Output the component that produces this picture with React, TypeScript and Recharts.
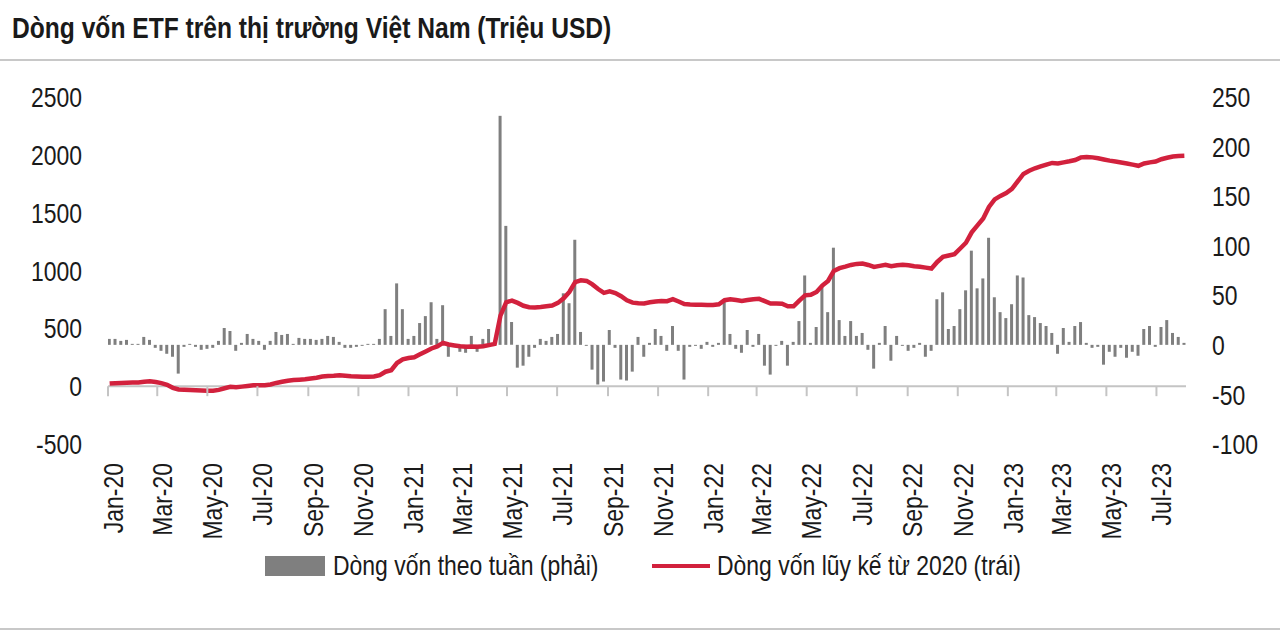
import { ComposedChart, Bar, Line, XAxis, YAxis, ReferenceLine } from 'recharts';

const TITLE = 'Dòng vốn ETF trên thị trường Việt Nam (Triệu USD)';
const BAR_NAME = 'Dòng vốn theo tuần (phải)';
const LINE_NAME = 'Dòng vốn lũy kế từ 2020 (trái)';

// first weekly observation, one point every 7 days after it
const FIRST_WEEK = '2020-01-03';

// weekly net flow, right axis (USD mn)
const WEEKLY_FLOW = [
  6, 6, 4, 5, 1, 1, 8, 5, -3, -6,
  -9, -12, -29, -2, 1, -2, -5, -4, -3, 4,
  17, 14, -6, 2, 11, 6, 4, -5, 4, 13,
  10, 11, 1, 7, 6, 6, 5, 6, 9,
  8, 3, -3, -3, -2, -1, 1, 1, 6, 36,
  9, 62, 36, 6, 9, 22, 29, 43, 6, 40,
  -12, -1, -7, -8, 9, -7, 6, 16, 3, 231,
  120, 23, -23, -21, -12, -3, 6,
  4, 8, 11, 52, 42, 106, 13, -1, -25, -40,
  -37, 15, -3, -35, -36, -27, 8, -12, 2, 16,
  9, -6, 19, -6, -35, -2, -1, -4, 3, -2,
  2, 45, 11, -4, -8, 15, -2, 11,
  -21, -30, -1, 4, -21, 3, 24, 70, 2, 18,
  59, 33, 98, 25, 9, 24, 9, 12, -5, -24,
  2, 19, -16, 9, -1, -6, -3, 2, -12, -6,
  46, 53, 16, 19, 36, 55, 95, 57, 67, 108,
  48, 33, 27, 41, 70, 68, 30, 28, 22, 19,
  12, -9, 17, 3, 19, 23, 2, -3, -2, -20,
  -7, -12, -3, -13, -7, -11, 16, 19, -2, 18,
  25, 12, 8, 2,
];

// cumulative flow since 2020, left axis (USD mn)
const CUMULATIVE_FLOW = [
  23, 26, 28, 30, 31, 32, 38, 42, 36, 26,
  12, -14, -29, -32, -34, -36, -38, -40, -40, -32,
  -18, -6, -10, -4, 2, 8, 9, 9, 15, 28,
  38, 47, 53, 56, 60, 67, 73, 83, 88,
  90, 95, 90, 86, 84, 82, 82, 84, 95, 125,
  138, 200, 232, 244, 250, 275, 300, 326, 343, 374,
  360, 352, 345, 340, 342, 340, 345, 355, 366, 610,
  725, 740, 720, 695, 682, 680, 684,
  690, 697, 720, 760, 815, 900, 915, 910, 880, 840,
  807, 820, 805, 778, 743, 722, 716, 715, 725, 732,
  737, 735, 752, 732, 710, 706, 704, 703, 702, 702,
  708, 743, 752, 745, 737, 745, 752, 755,
  735, 715, 715, 712, 690, 690, 740, 785, 790, 815,
  870, 910, 995, 1020, 1033, 1048, 1057, 1060, 1048, 1031,
  1040, 1050, 1037, 1045, 1050, 1045, 1037, 1033, 1025, 1017,
  1074, 1118, 1130, 1141, 1190, 1240, 1330, 1390, 1450, 1550,
  1615, 1645, 1670, 1705, 1770, 1835, 1862, 1884, 1900, 1916,
  1930, 1926, 1935, 1944, 1955, 1978, 1982, 1978, 1970, 1960,
  1950, 1942, 1933, 1925, 1915, 1905, 1925, 1935, 1942, 1962,
  1975, 1986, 1990, 1992,
];

const X_TICK_LABELS = [
  'Jan-20', 'Mar-20', 'May-20', 'Jul-20', 'Sep-20', 'Nov-20',
  'Jan-21', 'Mar-21', 'May-21', 'Jul-21', 'Sep-21', 'Nov-21',
  'Jan-22', 'Mar-22', 'May-22', 'Jul-22', 'Sep-22', 'Nov-22',
  'Jan-23', 'Mar-23', 'May-23', 'Jul-23',
];
const LEFT_TICKS = [-500, 0, 500, 1000, 1500, 2000, 2500];
const RIGHT_TICKS = [-100, -50, 0, 50, 100, 150, 200, 250];

const MONTHS = ['Jan', 'Feb', 'Mar', 'Apr', 'May', 'Jun', 'Jul', 'Aug', 'Sep', 'Oct', 'Nov', 'Dec'];
const DAY = 86400000;
const ORIGIN = Date.UTC(2020, 0, 1);
const X_END = 1313; // days after Jan 1 2020 where the axis stops

const W = 1280, H = 632;
const PLOT_TOP = 97, PLOT_BOTTOM = 444;
const LEFT_W = 108, RIGHT_W = 94, XAXIS_H = 100;
const ZERO_Y = PLOT_TOP + (PLOT_BOTTOM - PLOT_TOP) * LEFT_TICKS[LEFT_TICKS.length - 1] / (LEFT_TICKS[LEFT_TICKS.length - 1] - LEFT_TICKS[0]);

// no Arial Narrow installed: squeeze Liberation Sans (Arial metrics) instead
const FONT = "'Liberation Sans', Arial, sans-serif";
const NARROW = 0.82;
const FS = 28;
const INK = '#1a1a1a';
const AXIS_GREY = '#c4c4c4';
const BAR_GREY = '#7f7f7f';
const RED = '#d2213d';

const firstDay = (Date.parse(FIRST_WEEK) - ORIGIN) / DAY;
const data = WEEKLY_FLOW.map((w, i) => ({ day: firstDay + 7 * i, weekly: w, cumulative: CUMULATIVE_FLOW[i] }));

const X_TICK_DAYS = X_TICK_LABELS.map(l => {
  const [m, y] = l.split('-');
  return (Date.UTC(2000 + Number(y), MONTHS.indexOf(m), 1) - ORIGIN) / DAY;
});

type TickProps = { x?: number; y?: number; payload?: { value: number } };

function DateTick({ x, payload }: TickProps) {
  const idx = X_TICK_DAYS.indexOf(payload?.value ?? -1);
  const cx = Number(x);
  const lx = cx + 5, ly = 463;
  return (
    <g>
      <line x1={cx} x2={cx} y1={ZERO_Y} y2={ZERO_Y + 10} stroke={AXIS_GREY} strokeWidth={2} />
      <text x={0} y={0} dy="0.35em" textAnchor="end" transform={`translate(${lx},${ly}) rotate(-90) scale(${NARROW},1)`}
        style={{ fontFamily: FONT, fontSize: FS, fill: INK }}>
        {X_TICK_LABELS[idx]}
      </text>
    </g>
  );
}

function ValueTick({ x, y, payload, anchor }: TickProps & { anchor: 'start' | 'end' }) {
  return (
    <text x={0} y={0} dy="0.36em" textAnchor={anchor} transform={`translate(${x},${y}) scale(${NARROW},1)`}
      style={{ fontFamily: FONT, fontSize: FS, fill: INK }}>
      {payload?.value}
    </text>
  );
}

const squeeze = { display: 'inline-block', transform: `scaleX(${NARROW})`, transformOrigin: 'left center' } as const;

export default function App() {
  return (
    <div style={{ position: 'absolute', left: 0, top: 0, width: W, height: H, background: '#fff', fontFamily: FONT, overflow: 'hidden' }}>
      <div style={{ position: 'absolute', left: 12, top: 10, fontSize: 30, lineHeight: '36px', fontWeight: 700, color: INK, whiteSpace: 'nowrap' }}>
        <span style={squeeze}>{TITLE}</span>
      </div>
      <div style={{ position: 'absolute', left: 0, top: 59, width: W, height: 2, background: '#c8c8c8' }} />
      <div style={{ position: 'absolute', left: 0, top: 628, width: W, height: 2, background: '#c8c8c8' }} />

      <div style={{ position: 'absolute', left: 0, top: 0 }}>
        <ComposedChart width={W} height={H} data={data}
          margin={{ top: PLOT_TOP, right: 0, left: 0, bottom: H - PLOT_BOTTOM - XAXIS_H }}>
          <XAxis dataKey="day" type="number" domain={[0, X_END]} ticks={X_TICK_DAYS} interval={0}
            height={XAXIS_H} axisLine={false} tickLine={false} tick={<DateTick />} allowDataOverflow />
          <YAxis yAxisId="left" orientation="left" width={LEFT_W} domain={[LEFT_TICKS[0], LEFT_TICKS[LEFT_TICKS.length - 1]]}
            ticks={LEFT_TICKS} interval={0} axisLine={false} tickLine={false} tickSize={0} tickMargin={26}
            tick={<ValueTick anchor="end" />} />
          <YAxis yAxisId="right" orientation="right" width={RIGHT_W} domain={[RIGHT_TICKS[0], RIGHT_TICKS[RIGHT_TICKS.length - 1]]}
            ticks={RIGHT_TICKS} interval={0} axisLine={false} tickLine={false} tickSize={0} tickMargin={26}
            tick={<ValueTick anchor="start" />} />
          <ReferenceLine yAxisId="left" y={0} stroke={AXIS_GREY} strokeWidth={2} />
          <Bar yAxisId="right" dataKey="weekly" fill={BAR_GREY} barSize={3} isAnimationActive={false} />
          <Line yAxisId="left" dataKey="cumulative" type="linear" stroke={RED} strokeWidth={4.5} dot={false} isAnimationActive={false} />
        </ComposedChart>
      </div>

      <div style={{ position: 'absolute', left: 265, top: 548, height: 36, display: 'flex', alignItems: 'center', fontSize: FS, color: INK, whiteSpace: 'nowrap' }}>
        <span style={{ display: 'inline-block', width: 60, height: 20, background: BAR_GREY, marginRight: 8 }} />
        <span style={squeeze}>{BAR_NAME}</span>
      </div>
      <div style={{ position: 'absolute', left: 652, top: 548, height: 36, display: 'flex', alignItems: 'center', fontSize: FS, color: INK, whiteSpace: 'nowrap' }}>
        <span style={{ display: 'inline-block', width: 58, height: 4, background: RED, marginRight: 7 }} />
        <span style={squeeze}>{LINE_NAME}</span>
      </div>
    </div>
  );
}
